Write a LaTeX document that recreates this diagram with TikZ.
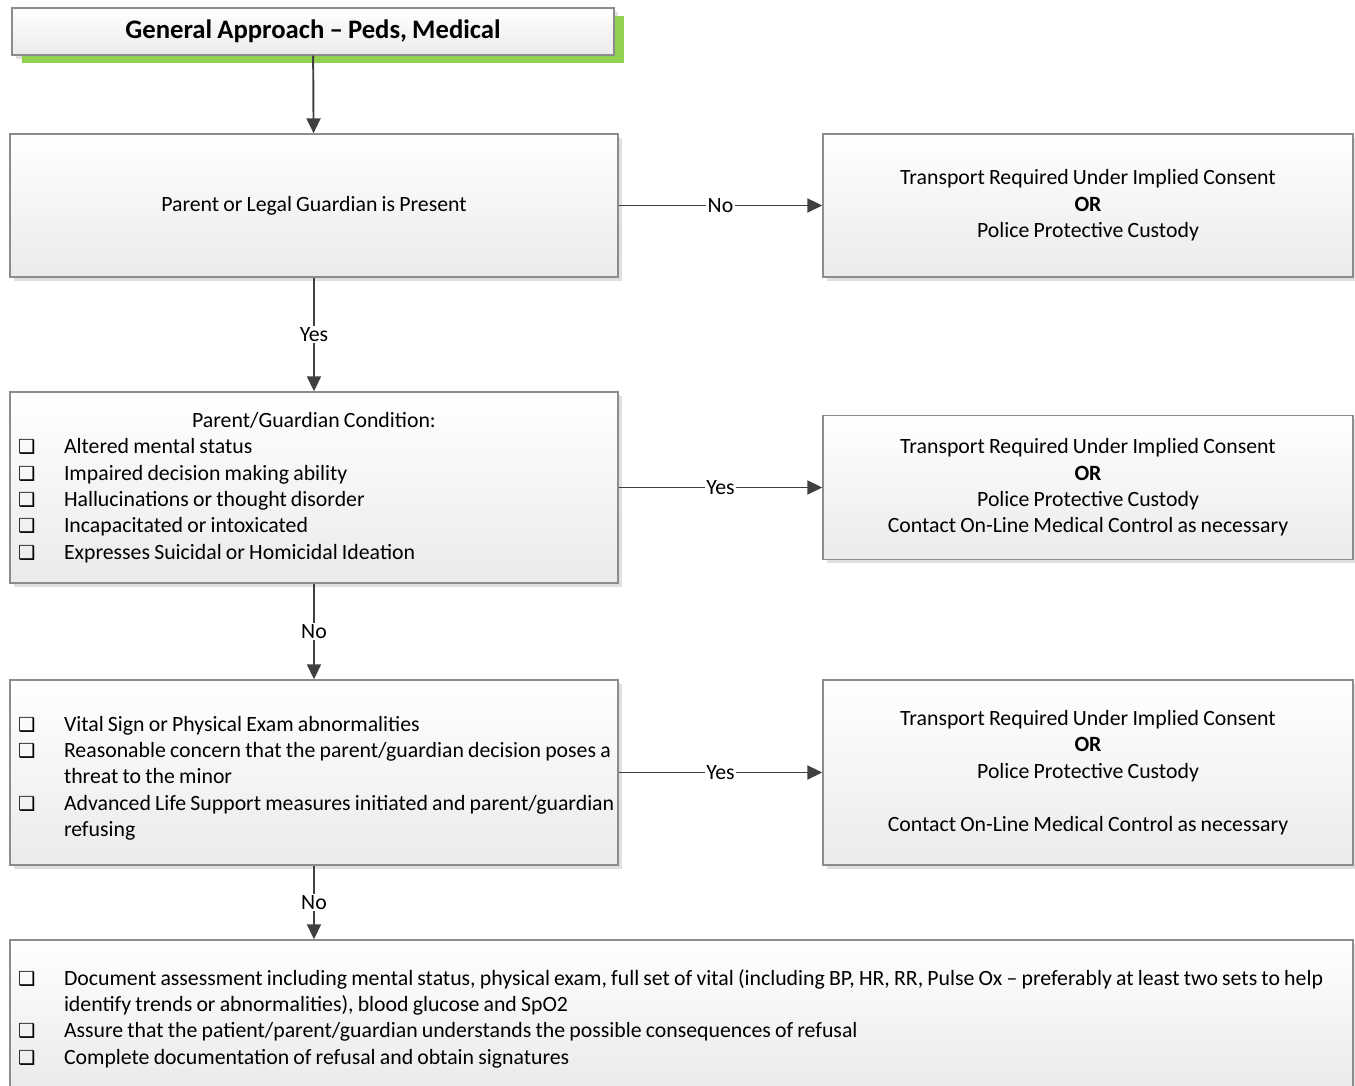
\documentclass[tikz,border=0pt]{standalone}
\usepackage{fontspec}
\setmainfont{Carlito}[WordSpace=0.85]
\newfontfamily\symfont{DejaVu Sans}
\usetikzlibrary{arrows.meta,shadows}
\definecolor{titlegreen}{HTML}{92D050}
\newcommand{\chkbox}{{\symfont\fontsize{11}{15}\selectfont ❑}}
\newcommand{\itm}[1]{\par\spaceskip=0pt\xspaceskip=0pt\hangindent=0.92cm\hangafter=1\noindent\makebox[0.92cm][l]{\chkbox}#1}

\begin{document}
\begin{tikzpicture}[>={Triangle[length=0.3cm,width=0.28cm]},font=\fontsize{12.4}{15}\selectfont]
\tikzstyle{blk}=[draw=black!45,line width=0.8pt,top color=white,bottom color=black!8,
  inner xsep=0.16cm,inner ysep=0pt,
  drop shadow={shadow xshift=0.08cm,shadow yshift=-0.08cm,fill=black!12,opacity=1}]
\tikzstyle{lbl}=[fill=white,inner sep=1pt]
\tikzstyle{arr}=[->,draw=black!75,line width=1.1pt]
\useasboundingbox (0,0) rectangle (27.1,-21.72);
% title
\node[blk,minimum width=12.04cm,minimum height=0.94cm,font=\fontsize{15.2}{18}\selectfont\bfseries,
  drop shadow={shadow xshift=0.2cm,shadow yshift=-0.17cm,fill=titlegreen,opacity=1}] (title) at (6.26,-0.63) {\raisebox{-2.5pt}{General Approach -- Peds, Medical}};
% left column
\node[blk,minimum width=12.16cm,minimum height=2.86cm] (present) at (6.28,-4.11) {Parent or Legal Guardian is Present};
\node[blk,text width=11.84cm,align=left,minimum height=3.82cm] (cond) at (6.28,-9.75) {{\centering\spaceskip=0pt Parent/Guardian Condition:\par}
  \itm{Altered mental status}
  \itm{Impaired decision making ability}
  \itm{Hallucinations or thought disorder}
  \itm{Incapacitated or intoxicated}
  \itm{Expresses Suicidal or Homicidal Ideation}\par};
\node[blk,text width=11.84cm,align=left,minimum height=3.7cm] (vitals) at (6.28,-15.45) {\itm{Vital Sign or Physical Exam abnormalities}
  \itm{\mbox{Reasonable concern that the parent/guardian decision poses a}\newline threat to the minor}
  \itm{\mbox{Advanced Life Support measures initiated and parent/guardian}\newline refusing}\par};
\node[blk,text width=26.54cm,align=left,minimum height=2.94cm] (refusal) at (13.63,-20.27) {\itm{\mbox{Document assessment including mental status, physical exam, full set of vital (including BP, HR, RR, Pulse Ox -- preferably at least two sets to help}\newline identify trends or abnormalities), blood glucose and SpO2}
  \itm{Assure that the patient/parent/guardian understands the possible consequences of refusal}
  \itm{Complete documentation of refusal and obtain signatures}\par};
% right column
\node[blk,minimum width=10.6cm,minimum height=2.86cm,align=center] (tr1) at (21.76,-4.11) {Transport Required Under Implied Consent\\ \textbf{OR}\\ Police Protective Custody};
\node[blk,minimum width=10.6cm,minimum height=2.88cm,align=center] (tr2) at (21.76,-9.75) {Transport Required Under Implied Consent\\ \textbf{OR}\\ Police Protective Custody\\ Contact On-Line Medical Control as necessary};
\node[blk,minimum width=10.6cm,minimum height=3.7cm,align=center] (tr3) at (21.76,-15.45) {Transport Required Under Implied Consent\\ \textbf{OR}\\ Police Protective Custody\\[15pt] Contact On-Line Medical Control as necessary};
% connectors
\draw[arr] (title) -- (present);
\draw[arr] (present) -- node[lbl]{Yes} (cond);
\draw[arr] (cond) -- node[lbl]{No} (vitals);
\draw[arr] (vitals.south) -- node[lbl]{No} (vitals.south |- refusal.north);
\draw[arr] (present) -- node[lbl]{No} (tr1);
\draw[arr] (cond) -- node[lbl]{Yes} (tr2);
\draw[arr] (vitals) -- node[lbl]{Yes} (tr3);
\end{tikzpicture}
\end{document}
